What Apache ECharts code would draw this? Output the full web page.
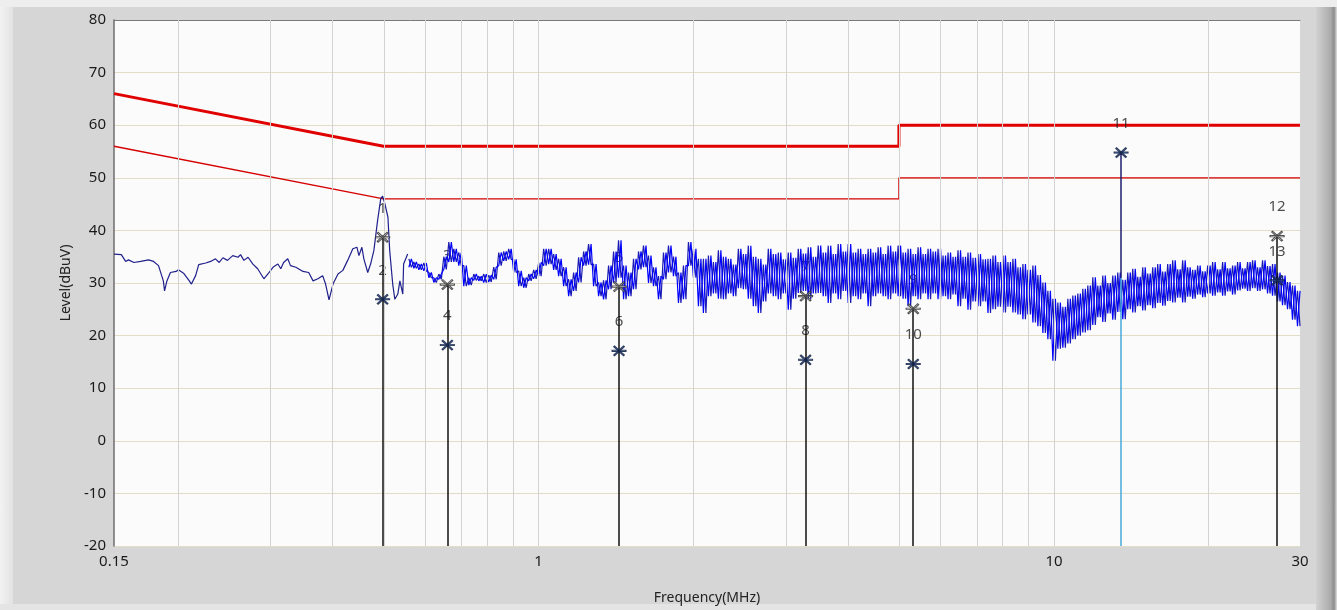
<!DOCTYPE html>
<html><head><meta charset="utf-8">
<script src="https://cdn.jsdelivr.net/npm/echarts@6/dist/echarts.min.js"></script>
<style>
html,body{margin:0;padding:0;width:1337px;height:610px;overflow:hidden;background:#d6d6d6;}
#leftStrip{position:absolute;left:0;top:0;width:13px;height:610px;background:linear-gradient(to right,#f2f2f2,#e2e2e2);}
#topStrip{position:absolute;left:0;top:0;width:1337px;height:7px;background:#eeeeee;}
#bottomStrip{position:absolute;left:0;top:604px;width:1337px;height:6px;background:#e4e4e4;}
#rightStrip{position:absolute;left:1316px;top:7px;width:21px;height:603px;background:linear-gradient(to right,#d2d2d2,#ababab 70%,#8c8c8c 86%,#e2e2e2);}
#chart{position:absolute;left:0;top:0;width:1337px;height:610px;}
</style></head>
<body>
<div id="leftStrip"></div><div id="topStrip"></div><div id="bottomStrip"></div><div id="rightStrip"></div>
<div id="chart"></div>
<script>
// ---- data ----
const xTickLabels = [0.15, 1, 10, 30];
const xGridFreqs = [0.2,0.3,0.4,0.5,0.6,0.7,0.8,0.9,1,2,3,4,5,6,7,8,9,10,20];
const yMin = -20, yMax = 80, yStep = 10;

const limitFreqs = [0.15, 0.5, 5, 5, 30];
const qpLimit = [66, 56, 56, 60, 60];
const avLimit = [56, 46, 46, 50, 50];

// low-frequency part of the scan (MHz, dBuV)
const scanLowFreqs = [0.150,0.155,0.158,0.160,0.164,0.169,0.175,0.179,0.183,0.187,0.188,0.190,0.193,0.198,0.200,0.205,0.210,0.212,0.216,0.219,0.226,0.231,0.236,0.240,0.244,0.249,0.255,0.261,0.264,0.268,0.273,0.279,0.285,0.293,0.300,0.306,0.312,0.316,0.320,0.326,0.330,0.338,0.349,0.358,0.365,0.373,0.381,0.386,0.392,0.399,0.408,0.417,0.426,0.436,0.444,0.448,0.454,0.458,0.466,0.472,0.479,0.487,0.494,0.498,0.503,0.510,0.514,0.521,0.526,0.533,0.538,0.545,0.547,0.557];
const scanLowLevels = [35.5,35.4,34.1,34.4,33.9,34.1,34.4,34.1,33.3,30.4,28.5,30.4,32.0,32.2,32.5,31.8,30.4,29.8,31.4,33.5,33.8,34.1,34.6,33.9,34.8,34.3,35.2,34.9,35.4,34.3,34.9,33.6,32.7,30.8,32.0,33.1,33.6,32.7,33.9,34.6,33.3,33.0,32.2,32.0,30.4,30.8,31.4,29.8,26.8,29.8,31.7,32.4,34.3,36.5,36.8,35.2,36.8,34.6,32.0,33.6,36.2,41.9,46.1,46.5,45.1,42.5,36.2,29.8,26.9,27.9,30.4,27.9,33.6,35.5];

// dense part of the scan: sweep from 0.56 to 30 MHz, peak / dip pairs
const scanDenseStart = 0.56, scanDenseStop = 30;
const scanDenseHi = [34.6,34.0,33.6,33.8,32.0,31.0,31.7,35.0,37.8,36.5,
35.8,33.3,31.0,31.7,31.3,31.7,31.5,33.0,35.8,36.0,
36.5,34.5,32.3,31.0,31.7,32.5,33.9,36.5,36.5,35.5,
34.6,33.0,30.7,32.0,34.9,36.0,37.4,33.6,30.1,30.5,
33.3,36.0,38.1,33.3,32.0,34.6,36.0,37.1,35.2,33.0,
31.3,35.8,37.1,35.0,32.0,33.3,37.8,36.5,34.6,34.6,
35.2,34.0,36.2,35.0,34.6,33.5,36.5,35.5,37.1,35.0,
34.6,33.5,36.5,35.5,35.8,34.5,35.8,34.8,36.5,35.6,
36.8,35.0,37.1,35.8,37.1,35.5,37.4,36.0,37.4,35.8,
36.5,35.5,36.5,35.8,36.8,35.5,37.1,36.0,37.1,35.8,
36.5,35.5,36.8,35.5,36.5,36.0,36.5,35.2,35.8,35.0,
36.2,35.0,35.8,34.8,35.5,34.5,34.6,35.2,34.0,35.2,
34.0,34.6,33.0,33.6,32.5,33.3,31.5,30.1,28.5,27.0,
26.3,25.5,27.0,27.6,28.0,28.9,29.5,31.1,29.5,31.4,
30.0,31.4,32.0,30.6,32.0,32.7,31.2,33.0,31.8,33.0,
33.6,32.2,33.6,34.3,32.6,34.3,33.0,32.5,33.3,32.2,
33.3,34.0,32.6,34.0,32.8,33.3,34.0,32.8,34.0,34.3,
33.0,34.3,33.2,33.6,32.0,31.4,30.2,29.5,28.5];
const scanDenseLo = [33.0,32.8,32.5,32.3,31.0,30.1,30.7,32.6,34.0,34.0,
33.3,29.4,29.6,30.5,30.4,30.1,30.2,30.7,33.3,34.2,
34.5,32.0,29.4,29.1,30.4,30.8,31.3,33.3,33.6,32.5,
31.3,29.4,27.5,28.5,30.1,33.3,33.5,29.4,27.5,26.9,
28.8,30.1,31.0,26.9,27.5,28.8,32.6,33.0,30.0,29.4,
26.9,30.7,32.0,31.3,26.2,26.9,33.3,31.0,25.6,24.3,
27.5,28.0,27.0,26.9,28.0,27.5,29.0,28.8,27.0,25.6,
24.3,26.5,28.0,27.5,26.9,28.0,24.9,27.0,28.1,28.5,
26.9,28.0,28.1,27.5,26.2,28.0,26.9,28.5,26.2,27.5,
26.9,28.0,25.6,27.5,28.0,27.5,26.9,28.0,27.5,27.0,
25.6,27.5,26.9,28.0,26.9,28.0,26.9,27.5,26.9,27.8,
25.6,27.0,24.9,26.5,25.6,26.5,24.3,25.0,25.5,24.4,
25.5,24.4,24.0,23.1,24.0,22.5,21.8,20.5,19.3,15.2,
17.5,17.7,18.5,19.3,20.0,20.6,21.0,22.0,23.5,22.6,
24.2,23.0,24.5,23.1,25.0,24.4,25.6,24.8,25.8,25.2,
26.2,25.7,26.6,26.3,27.2,26.3,27.4,27.0,27.8,27.3,
28.0,27.6,28.2,27.6,28.4,27.8,28.6,28.9,28.5,29.0,
28.5,28.8,28.0,27.6,26.5,25.8,25.0,23.0,21.8];

// markers
const markerNo    = [1, 2, 3, 4, 5, 6, 7, 8, 9, 10, 11, 12, 13];
const markerFreq  = [0.498, 0.498, 0.665, 0.665, 1.432, 1.432, 3.295, 3.295, 5.33, 5.33, 13.49, 27.08, 27.08];
const markerLevel = [38.7, 26.9, 29.7, 18.2, 29.3, 17.1, 27.5, 15.4, 25.1, 14.6, 54.8, 38.9, 30.5];
const markerKind  = ['QP','AV','QP','AV','QP','AV','QP','AV','QP','AV','AV','QP','AV'];
const marker11TraceLevel = 31; // level where the marker-11 line meets the trace

// ---- build ----
const lg = Math.log10;
const lowData = [];
for (let i = 0; i < Math.min(scanLowFreqs.length, scanLowLevels.length); i++) lowData.push([lg(scanLowFreqs[i]), scanLowLevels[i]]);
const nPairs = Math.min(scanDenseHi.length, scanDenseLo.length);
const nPts = nPairs * 2;
const lStart = lg(scanDenseStart), lStop = lg(scanDenseStop);
const denseA = [], denseB = [];
for (let j = 0; j < nPts; j++) {
  const lx = lStart + (lStop - lStart) * j / (nPts - 1);
  const k = Math.floor(j / 2);
  denseA.push([lx, j % 2 === 0 ? scanDenseHi[k] : scanDenseLo[k]]);
  denseB.push([lx, j % 2 === 0 ? scanDenseLo[k] : scanDenseHi[k]]);
}
const limitQP = limitFreqs.map((f, i) => [lg(f), qpLimit[i]]);
const limitAV = limitFreqs.map((f, i) => [lg(f), avLimit[i]]);

// marker vertical lines: one per frequency up to the highest reading
const lineTops = {};
markerFreq.forEach((f, i) => { const key = f.toFixed(4); lineTops[key] = Math.max(lineTops[key] ?? -1e9, markerLevel[i]); });
const blackLines = [], lightLines = [], darkLines = [];
const idx11 = markerNo.indexOf(11);
Object.keys(lineTops).forEach(key => {
  const f = parseFloat(key), top = lineTops[key];
  if (Math.abs(f - markerFreq[idx11]) < 1e-6) {
    lightLines.push([{coord: [lg(f), yMin]}, {coord: [lg(f), marker11TraceLevel]}]);
    darkLines.push([{coord: [lg(f), marker11TraceLevel]}, {coord: [lg(f), top]}]);
  } else {
    blackLines.push([{coord: [lg(f), yMin]}, {coord: [lg(f), top]}]);
  }
});

const starPath = 'path://M0 9 L20 9 L20 11 L0 11 Z M2.2 3.6 L3.6 2.2 L17.8 16.4 L16.4 17.8 Z M16.4 2.2 L17.8 3.6 L3.6 17.8 L2.2 16.4 Z';
const starData = markerFreq.map((f, i) => ({
  value: [lg(f), markerLevel[i]],
  itemStyle: markerKind[i] === 'QP'
    ? {color: '#ffffff', borderColor: '#222222', borderWidth: 1}
    : {color: '#2b4f8c', borderColor: '#0d1a3d', borderWidth: 0.9}
}));
const labelData = markerFreq.map((f, i) => ({value: [lg(f), markerLevel[i]], name: String(markerNo[i])}));

const fmtFreq = v => {
  let best = xTickLabels[0];
  xTickLabels.forEach(t => { if (Math.abs(lg(t) - v) < Math.abs(lg(best) - v)) best = t; });
  return String(best);
};

const font = '"Noto Sans", "Open Sans", sans-serif';
const chart = echarts.init(document.getElementById('chart'), null, {renderer: 'canvas'});
const vline = (data, color, width, z) => ({type: 'line', data: [], z: z, silent: true,
  markLine: {silent: true, symbol: ['none', 'none'], label: {show: false}, animation: false,
    lineStyle: {color: color, width: width, type: 'solid'}, data: data}});
chart.setOption({
  animation: false,
  backgroundColor: 'transparent',
  grid: {left: 114, right: 37, top: 20, bottom: 63, show: true, backgroundColor: '#fbfbfb', borderWidth: 0},
  xAxis: [{
    type: 'value', min: lg(xTickLabels[0]), max: lg(xTickLabels[xTickLabels.length - 1]),
    axisLine: {show: false, onZero: false}, axisTick: {show: false}, splitLine: {show: false},
    axisLabel: {customValues: xTickLabels.map(lg), formatter: fmtFreq, fontSize: 15, color: '#1a1a1a', fontFamily: font, margin: 8, showMinLabel: true, showMaxLabel: true},
    name: 'Frequency(MHz)', nameLocation: 'middle', nameGap: 45,
    nameTextStyle: {fontSize: 14, color: '#222', fontFamily: font}
  }, {
    type: 'value', position: 'top', min: lg(xTickLabels[0]), max: lg(xTickLabels[xTickLabels.length - 1]),
    axisLine: {show: true, onZero: false, lineStyle: {color: '#7a7a7a', width: 1}}, axisTick: {show: false}, axisLabel: {show: false}, splitLine: {show: false}
  }],
  yAxis: {
    type: 'value', min: yMin, max: yMax, interval: yStep,
    axisLine: {show: true, onZero: false, lineStyle: {color: '#6e6e6e', width: 1.5}}, axisTick: {show: false},
    splitLine: {show: true, lineStyle: {color: '#e3dcc6', width: 1}},
    axisLabel: {fontSize: 15, color: '#1a1a1a', fontFamily: font, margin: 8},
    name: 'Level(dBuV)', nameLocation: 'middle', nameGap: 38, nameRotate: 90,
    nameTextStyle: {fontSize: 14, color: '#222', fontFamily: font}
  },
  series: [
    vline(xGridFreqs.map(f => ({xAxis: lg(f)})), '#d2d2d2', 1, 1),
    {type: 'line', data: limitAV, z: 3, showSymbol: false, silent: true, lineStyle: {color: '#d60000', width: 1.3}},
    {type: 'line', data: limitQP, z: 3, showSymbol: false, silent: true, lineStyle: {color: '#e00000', width: 3}},
    {type: 'scatter', data: labelData, z: 3, symbolSize: 1, itemStyle: {color: 'rgba(0,0,0,0)'}, silent: true,
     label: {show: true, position: 'inside', offset: [0, -29], formatter: p => p.name, fontSize: 15, color: '#222222', fontFamily: font}},
    {type: 'line', data: lowData, z: 4, showSymbol: false, silent: true, lineStyle: {color: '#20208c', width: 1.2}},
    {type: 'line', data: denseA, z: 4, showSymbol: false, silent: true, lineStyle: {color: '#1a1ab4', width: 1.2}},
    {type: 'line', data: denseB, z: 4, showSymbol: false, silent: true, lineStyle: {color: '#0000ff', width: 1.2}},
    vline(blackLines, '#111111', 1.5, 5),
    vline(lightLines, '#45a8d8', 1.5, 5),
    vline(darkLines, '#1e1e70', 1.5, 5),
    {type: 'scatter', data: starData, z: 6, symbol: starPath, symbolSize: [14, 10], silent: true}
  ]
});
</script>
</body></html>
